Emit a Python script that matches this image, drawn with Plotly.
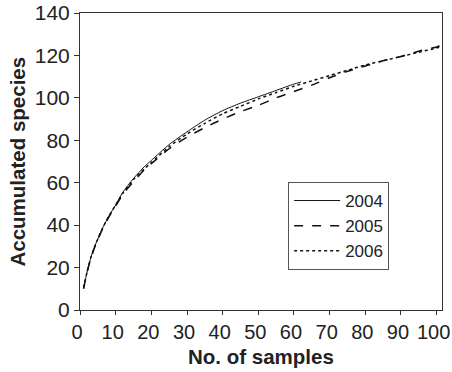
import plotly.graph_objects as go

# Data
samples_2004 = [1, 2, 3, 4, 5, 6, 8, 10, 12, 15, 18, 20, 25, 30, 35, 40, 45, 50, 55, 60, 62]
species_2004 = [10.5, 18, 24.5, 29.5, 33.5, 37.5, 44, 49.5, 55.5, 62, 67.5, 70.5, 78, 84, 89.5, 94, 97.5, 100.5, 103.5, 106.5, 107.5]

samples_2005 = [1, 2, 3, 4, 5, 6, 8, 10, 12, 15, 18, 20, 25, 30, 35, 40, 45, 50, 55, 60, 65, 70, 75, 80, 85, 90, 95, 100, 101]
species_2005 = [10, 18, 24, 29, 33, 37, 43.5, 49, 54.5, 60.5, 66, 69, 76, 81.5, 86, 90, 93.5, 96.5, 100, 103, 106, 109.5, 112.5, 115, 117.5, 119.5, 122, 124, 124.5]

samples_2006 = [1, 2, 3, 4, 5, 6, 8, 10, 12, 15, 18, 20, 25, 30, 35, 40, 45, 50, 55, 60, 65, 70, 75, 80, 85, 90, 95, 100, 101]
species_2006 = [10.5, 18, 24.5, 29.5, 33.5, 37.5, 44, 49.5, 55, 61.5, 66.5, 69.5, 77, 83, 88, 92.5, 96, 99.5, 102.5, 105.5, 108, 110.5, 113, 115.5, 117.5, 119.5, 121.5, 123.5, 124]

x_ticks = [0, 10, 20, 30, 40, 50, 60, 70, 80, 90, 100]
y_ticks = [0, 20, 40, 60, 80, 100, 120, 140]

series = [
    ("2004", samples_2004, species_2004, "solid", 1),
    ("2005", samples_2005, species_2005, "dash", 1.5),
    ("2006", samples_2006, species_2006, "dot", 1.5),
]

FONT = "Liberation Sans, Arial, sans-serif"

fig = go.Figure()
for name, xs, ys, dash, w in series:
    fig.add_trace(go.Scatter(
        x=xs, y=ys, name=name, mode="lines",
        line=dict(color="#111111", width=w, dash=dash, shape="spline", smoothing=0.6),
    ))

fig.update_layout(
    width=452, height=372,
    margin=dict(l=80, r=10, t=13, b=62, autoexpand=False),
    paper_bgcolor="white", plot_bgcolor="white",
    showlegend=True,
    legend=dict(
        x=0.575, y=0.431, xanchor="left", yanchor="top",
        bgcolor="white", bordercolor="#555555", borderwidth=1,
        font=dict(family=FONT, size=17, color="#222222"),
        tracegroupgap=0, itemwidth=46,
    ),
    xaxis=dict(
        range=[0, 101.5], tickmode="array", tickvals=x_ticks,
        ticks="outside", ticklen=4, tickcolor="#333333",
        showline=True, linecolor="#333333", linewidth=1, mirror=True,
        showgrid=False, zeroline=False, automargin=False,
        ticklabeloverflow="allow", ticklabelshift=-3,
        tickfont=dict(family=FONT, size=20, color="#222222"),
    ),
    yaxis=dict(
        range=[0, 140], tickmode="array", tickvals=y_ticks,
        ticks="outside", ticklen=5, tickcolor="#333333",
        showline=True, linecolor="#333333", linewidth=1, mirror=True,
        showgrid=False, zeroline=False, automargin=False,
        ticklabeloverflow="allow",
        tickfont=dict(family=FONT, size=21, color="#222222"),
    ),
    annotations=[
        dict(text="<b>No. of samples</b>", xref="paper", yref="paper",
             x=0.5, y=-0.158, xanchor="center", yanchor="middle", showarrow=False,
             font=dict(family=FONT, size=20.5, color="#222222")),
        dict(text="<b>Accumulated species</b>", xref="paper", yref="paper",
             x=-0.174, y=0.5, xanchor="center", yanchor="middle", showarrow=False,
             textangle=-90, font=dict(family=FONT, size=20.5, color="#222222")),
    ],
)

fig.write_html(
    "out.html",
    config={"displayModeBar": False},
    post_script="document.body.style.margin='0';document.body.style.overflow='hidden';",
)
